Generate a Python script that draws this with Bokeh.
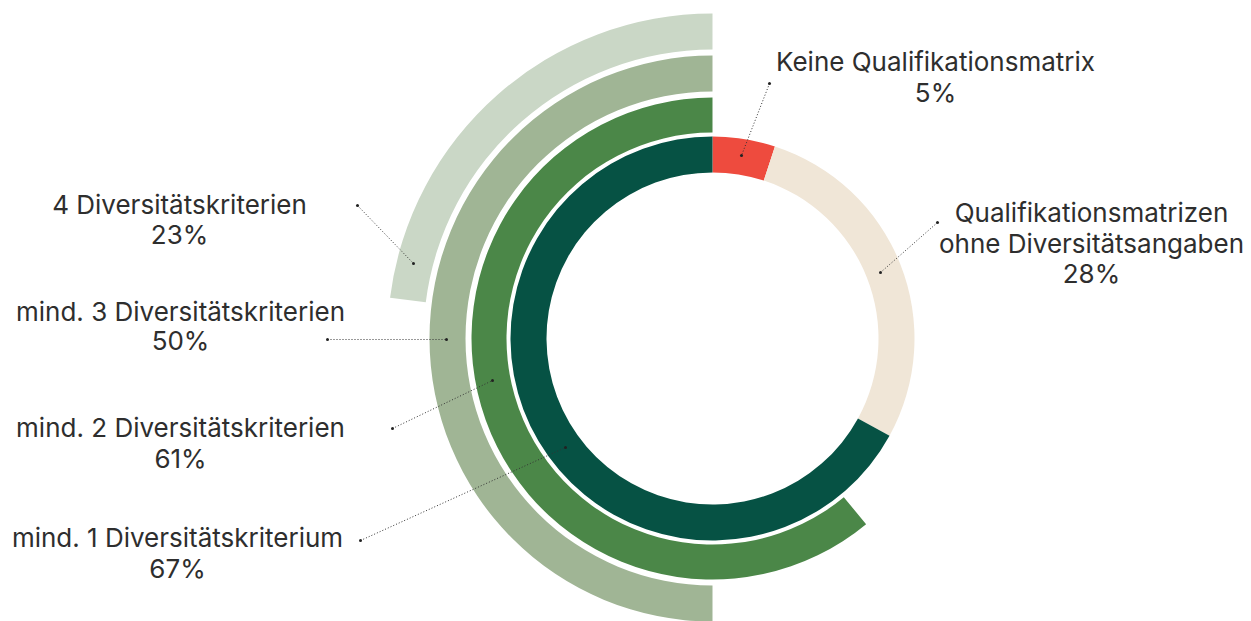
import math
from bokeh.plotting import figure
from bokeh.models import Range1d, ColumnDataSource
from bokeh.embed import file_html
from bokeh.resources import INLINE
from bokeh.core.properties import value

# ---------------- data ----------------
# inner ring (clockwise from top, sums to 100)
inner_labels = ["Keine Qualifikationsmatrix",
                "Qualifikationsmatrizen\nohne Diversitätsangaben",
                "mind. 1 Diversitätskriterium"]
inner_values = [5, 28, 67]

# outer rings (counter-clockwise from top)
outer_labels = ["mind. 2 Diversitätskriterien",
                "mind. 3 Diversitätskriterien",
                "4 Diversitätskriterien"]
outer_values = [61, 50, 23]

# ---------------- style / layout ----------------
W, H = 1251, 621
CX, CY = 712, H - 338
inner_colors = ["#EE4B3E", "#F0E6D7", "#065244"]
outer_colors = ["#4B8748", "#A0B595", "#CAD7C6"]
ring_radii = [(166, 202), (206, 241), (247, 283), (289, 325)]
FONT = "Inter"
TXT = "#2e2e2e"

p = figure(width=W, height=H, x_range=Range1d(0, W), y_range=Range1d(0, H),
           output_backend="svg", toolbar_location=None, min_border=0)
p.axis.visible = False
p.grid.visible = False
p.outline_line_color = None
p.background_fill_color = "white"
p.border_fill_color = "white"

TAU = 2 * math.pi

# inner ring wedges
starts, ends = [], []
cum = 0
for v in inner_values:
    s = math.pi / 2 - (cum + v) / 100 * TAU
    e = math.pi / 2 - cum / 100 * TAU
    starts.append(s)
    ends.append(e)
    cum += v
src_in = ColumnDataSource(dict(x=[CX] * 3, y=[CY] * 3, s=starts, e=ends, c=inner_colors))
p.annular_wedge(x="x", y="y", inner_radius=ring_radii[0][0], outer_radius=ring_radii[0][1],
                start_angle="s", end_angle="e", fill_color="c", line_color=None, source=src_in)

# outer rings
for i, v in enumerate(outer_values):
    ri, ro = ring_radii[i + 1]
    p.annular_wedge(x=[CX], y=[CY], inner_radius=ri, outer_radius=ro,
                    start_angle=[math.pi / 2], end_angle=[math.pi / 2 + v / 100 * TAU],
                    fill_color=outer_colors[i], line_color=None)

# ---------------- labels (x centre, line positions in pixels from top) ----------------
label_blocks = [
    (inner_labels[0], inner_values[0], 935, [61, 92]),
    (inner_labels[1], inner_values[1], 1091, [212, 243, 273]),
    (outer_labels[2], outer_values[2], 179, [204, 234]),
    (outer_labels[1], outer_values[1], 180, [311, 340]),
    (outer_labels[0], outer_values[0], 180, [427, 458]),
    (inner_labels[2], inner_values[2], 177, [537, 568]),
]
tx, ty, tt = [], [], []
for lab, v, x, ys in label_blocks:
    lines = lab.split("\n") + [f"{v}%"]
    for line, yy in zip(lines, ys):
        tx.append(x)
        ty.append(H - yy)
        tt.append(line)
p.text(x=tx, y=ty, text=tt, text_align="center", text_baseline="alphabetic",
       text_font=value(FONT), text_font_size="26px", text_color=TXT)

# leader lines (pixel layout positions)
leaders = [
    ((769, 83), (741, 155)),
    ((937, 222), (880, 272)),
    ((357, 205), (413, 263)),
    ((327, 339), (446, 339)),
    ((392, 428), (492, 380)),
    ((360, 540), (565, 447)),
]
x0 = [a[0] for a, b in leaders]
y0 = [H - a[1] for a, b in leaders]
x1 = [b[0] for a, b in leaders]
y1 = [H - b[1] for a, b in leaders]
p.segment(x0=x0, y0=y0, x1=x1, y1=y1, line_color="#333333", line_width=1, line_dash="1 2")
p.scatter(x=x0 + x1, y=y0 + y1, size=3, color="#222222", line_color=None)

open("out.html", "w").write(file_html(p, INLINE))
